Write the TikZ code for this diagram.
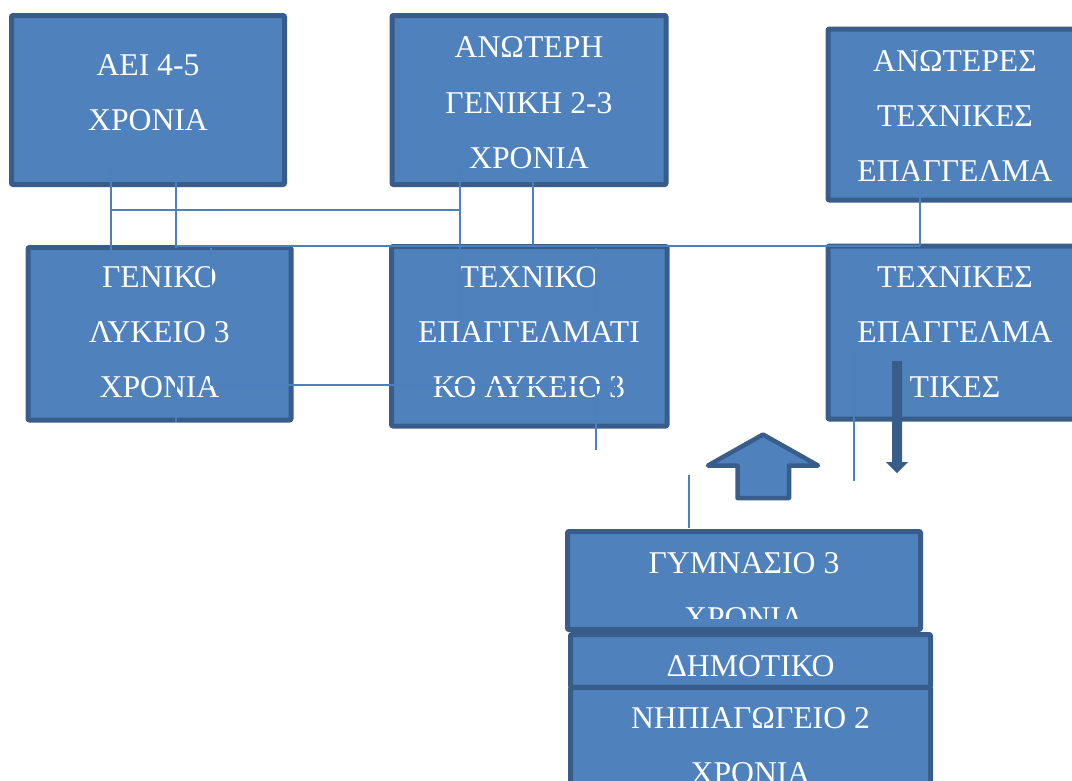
\documentclass[tikz,border=0pt]{standalone}
\usepackage{fontspec}
\setmainfont{Liberation Serif}
\definecolor{boxfill}{HTML}{4F81BD}
\definecolor{boxedge}{HTML}{385D8A}
\definecolor{linkblue}{HTML}{4C80BF}

\begin{document}
\begin{tikzpicture}[x=1pt,y=-1pt,
  box/.style={draw=boxedge, fill=boxfill, line width=5pt, line join=round,
    rounded corners=1pt, inner sep=0pt, outer sep=0pt},
  txt/.style={text=white, anchor=base, inner sep=0pt,
    font=\fontsize{31.7}{38}\selectfont},
  link/.style={draw=linkblue, line width=1.8pt},
  blockarrow/.style={draw=boxedge, fill=boxfill, line width=4.5pt, line join=round},
  downarrow/.style={fill=boxedge, draw=none},
]
\clip (0,0) rectangle (1072,780);

% ---- boxes ----
\node[box, minimum width=273pt, minimum height=169pt]   (aei)      at (148,100)      {};
\node[box, minimum width=274pt, minimum height=169pt]   (anoteri)  at (529,100)      {};
\node[box, minimum width=254pt, minimum height=171pt]   (anoteres) at (955,114.5)    {};
\node[box, minimum width=263pt, minimum height=172.5pt] (geniko)   at (159.5,333.75) {};
\node[box, minimum width=275.5pt, minimum height=179.5pt] (texniko) at (529.25,336.25) {};
\node[box, minimum width=254pt, minimum height=173pt]   (texnikes) at (955,332.5)    {};
\node[box, minimum width=353pt, minimum height=98pt]    (gymnasio) at (744,580.5)    {};
\node[box, minimum width=360pt, minimum height=52.5pt]  (dimotiko) at (750.5,660.75) {};
\node[box, minimum width=360pt, minimum height=122.5pt] (nipiagogeio) at (750.5,748.75) {};

% ---- box texts ----
\node[txt] (aei1) at (148,75.5)  {ΑΕΙ 4-5};
\node[txt] (aei2) at (148,130.5) {ΧΡΟΝΙΑ};

\node[txt] (ano1) at (529,57.5)  {ΑΝΩΤΕΡΗ};
\node[txt] (ano2) at (529,113.5) {ΓΕΝΙΚΗ 2-3};
\node[txt] (ano3) at (529,168.5) {ΧΡΟΝΙΑ};

\node[txt] (ans1) at (955,71)  {ΑΝΩΤΕΡΕΣ};
\node[txt] (ans2) at (955,126) {ΤΕΧΝΙΚΕΣ};
\node[txt] (ans3) at (955,181) {ΕΠΑΓΓΕΛΜΑ};

\node[txt] (gen1) at (159.5,287.5) {ΓΕΝΙΚΟ};
\node[txt] (gen2) at (159.5,342.5) {ΛΥΚΕΙΟ 3};
\node[txt] (gen3) at (159.5,397.5) {ΧΡΟΝΙΑ};

\node[txt] (tex1) at (529,287.5) {ΤΕΧΝΙΚΟ};
\node[txt] (tex2) at (529,342.5) {ΕΠΑΓΓΕΛΜΑΤΙ};
\node[txt] (tex3) at (529,397.5) {ΚΟ ΛΥΚΕΙΟ 3};

\node[txt] (tes1) at (955,287.5) {ΤΕΧΝΙΚΕΣ};
\node[txt] (tes2) at (955,342.5) {ΕΠΑΓΓΕΛΜΑ};
\node[txt] (tes3) at (955,397.5) {ΤΙΚΕΣ};

\node[txt] (gym1) at (744,573.5) {ΓΥΜΝΑΣΙΟ 3};
\begin{scope}
  \clip (560,600) rectangle (930,618);
  \node[txt] (gym2) at (744,628.5) {ΧΡΟΝΙΑ};
\end{scope}

\node[txt] (dim1) at (750.5,676.5) {ΔΗΜΟΤΙΚΟ};
\node[txt] (nip1) at (750.5,728.5) {ΝΗΠΙΑΓΩΓΕΙΟ 2};
\node[txt] (nip2) at (750.5,783.5) {ΧΡΟΝΙΑ};

% ---- block arrows ----
\coordinate (upTip) at (763,434.5);
\draw[blockarrow] (upTip) -- (708,465.5) -- (737.5,465.5) -- (737.5,498)
  -- (789,498) -- (789,465.5) -- (818,465.5) -- cycle;
\coordinate (downTop) at (897,361);
\fill[downarrow] (892,361) -- (902,361) -- (902,462) -- (908,462) -- (897,473)
  -- (886,462) -- (892,462) -- cycle;

% ---- connector lines ----
\coordinate (p1a) at (111,162);  \coordinate (p1b) at (111,262);
\coordinate (p2a) at (176,162);  \coordinate (p2b) at (176,248);
\coordinate (p3a) at (111,210);  \coordinate (p3b) at (460,210);
\coordinate (p4a) at (460,162);  \coordinate (p4b) at (460,320);
\coordinate (p5a) at (533,170);  \coordinate (p5b) at (533,247);
\coordinate (p6a) at (176,246);  \coordinate (p6b) at (920,246);
\coordinate (p7a) at (920,180);
\coordinate (p8a) at (211,248);  \coordinate (p8b) at (211,385);
\coordinate (p9b) at (616,385);
\coordinate (p10a) at (176,345); \coordinate (p10b) at (176,422);
\coordinate (p11a) at (596,248); \coordinate (p11b) at (596,313);
\coordinate (p11c) at (596,385); \coordinate (p11d) at (596,450);
\coordinate (p12a) at (616,358); \coordinate (p12b) at (616,422);
\coordinate (p13a) at (689,475); \coordinate (p13b) at (689,528);
\coordinate (p14a) at (854,352); \coordinate (p14b) at (854,481);

\draw[link] (p1a) -- (p1b);
\draw[link] (p2a) -- (p2b);
\draw[link] (p3a) -- (p3b);
\draw[link] (p4a) -- (p4b);
\draw[link] (p5a) -- (p5b);
\draw[link] (p6a) -- (p6b);
\draw[link] (p7a) -- (p6b);
\draw[link] (p8a) -- (p8b);
\draw[link] (p8b) -- (p9b);
\draw[link] (p10a) -- (p10b);
\draw[link] (p11a) -- (p11b);
\draw[link] (p11c) -- (p11d);
\draw[link] (p12a) -- (p12b);
\draw[link] (p13a) -- (p13b);
\draw[link] (p14a) -- (p14b);
\end{tikzpicture}
\end{document}
